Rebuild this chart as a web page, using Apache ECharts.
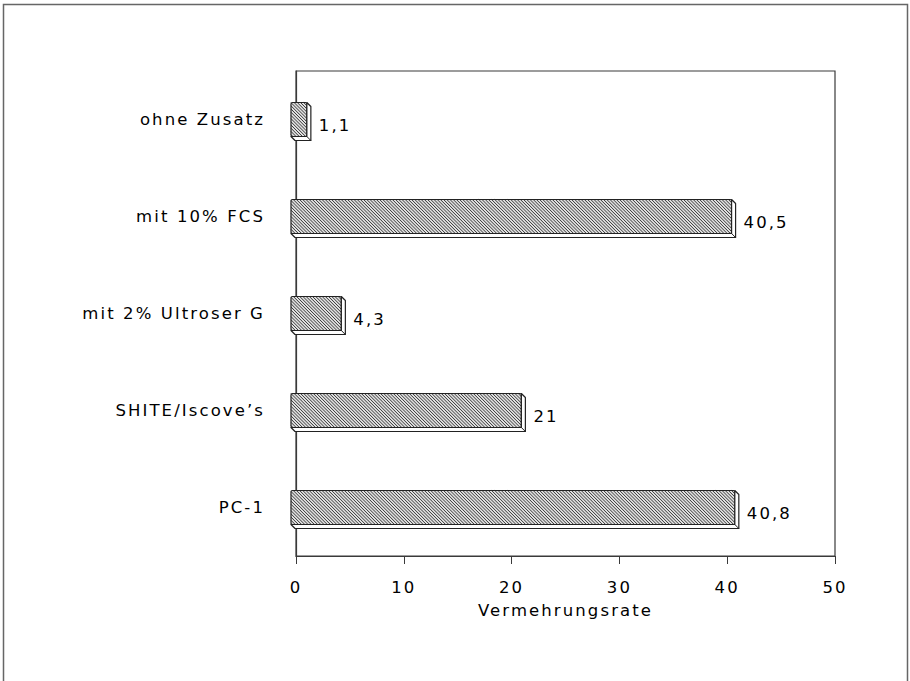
<!DOCTYPE html>
<html>
<head>
<meta charset="utf-8">
<script src="https://cdn.jsdelivr.net/npm/echarts@6/dist/echarts.min.js"></script>
<style>
  html, body { margin: 0; padding: 0; background: #fff; }
  #chart { width: 910px; height: 681px; letter-spacing: 2.1px; }
</style>
</head>
<body>
<div id="chart"></div>
<script>
// ---- data ----
const categories = ['ohne Zusatz', 'mit 10% FCS', 'mit 2% Ultroser G', 'SHITE/Iscove\u2019s', 'PC-1'];
const values = [1.1, 40.5, 4.3, 21, 40.8];
const xTicks = { min: 0, max: 50, interval: 10 };
const axisTitle = 'Vermehrungsrate';

const FONT = '"DejaVu Sans", sans-serif';
const TEXT = '#000';
const LINE = '#3a3a3a';

function fmt(v) { return String(v).replace('.', ','); }

function renderBar(params, api) {
  const idx = api.value(0);
  const v = api.value(1);
  const p0 = api.coord([0, idx]);
  const pv = api.coord([v, idx]);
  const cy = p0[1];
  const a = p0[0] - 5, b = pv[0] - 1;
  const t = cy - 17, u = cy + 17;
  const d = 4;
  // hatching
  let path = '';
  const s = 3.2;
  for (let c = t - b; c <= u - a; c += s) {
    const x1 = Math.max(a, t - c), x2 = Math.min(b, u - c);
    if (x2 > x1) path += 'M' + x1.toFixed(2) + ' ' + (x1 + c).toFixed(2) + 'L' + x2.toFixed(2) + ' ' + (x2 + c).toFixed(2);
  }
  const children = [
    { type: 'rect', shape: { x: a, y: t, width: b - a, height: u - t }, style: { fill: '#e0e0e0', stroke: null } },
    { type: 'path', shape: { pathData: path }, style: { fill: null, stroke: '#383838', lineWidth: 1 } },
    { type: 'rect', shape: { x: a, y: t, width: b - a, height: u - t, r: 1.5 }, style: { fill: null, stroke: '#222', lineWidth: 1.2 } },
    { type: 'polygon', shape: { points: [[b, t], [b + d, t + d], [b + d, u + d], [a + d, u + d], [a, u], [b, u]] },
      style: { fill: '#fff', stroke: '#222', lineWidth: 1.2, lineJoin: 'round' } },
    { type: 'line', shape: { x1: b, y1: u, x2: b + d, y2: u + d }, style: { stroke: '#222', lineWidth: 1 } },
    { type: 'text', style: { x: b + 12, y: cy + 6, text: fmt(v), fill: TEXT, font: '16.5px ' + FONT, textAlign: 'left', textVerticalAlign: 'middle' } }
  ];
  return { type: 'group', children: children };
}

const chart = echarts.init(document.getElementById('chart'), null, { renderer: 'svg' });
chart.setOption({
  animation: false,
  backgroundColor: '#fff',
  textStyle: { fontFamily: FONT },
  graphic: [{
    type: 'rect', shape: { x: 3.5, y: 4.5, width: 904, height: 720 },
    style: { fill: null, stroke: '#666', lineWidth: 1.5 }, silent: true, z: -10
  }],
  grid: { left: 296, right: 75, top: 71, bottom: 125, show: true, borderColor: LINE, borderWidth: 1.2 },
  xAxis: {
    type: 'value', min: xTicks.min, max: xTicks.max, interval: xTicks.interval,
    splitLine: { show: false },
    axisLine: { show: true, lineStyle: { color: LINE, width: 1.2 } },
    axisTick: { show: true, length: 8, lineStyle: { color: LINE } },
    axisLabel: { color: TEXT, fontSize: 16.5, margin: 23, fontFamily: FONT },
    name: axisTitle, nameLocation: 'middle', nameGap: 46,
    nameTextStyle: { color: TEXT, fontSize: 16.5, fontFamily: FONT }
  },
  yAxis: {
    type: 'category', data: categories, inverse: true,
    axisLine: { show: true, lineStyle: { color: LINE, width: 1.2 } },
    axisTick: { show: false },
    axisLabel: { color: TEXT, fontSize: 16.5, margin: 31, fontFamily: FONT, padding: [6, 0, 0, 0] }
  },
  series: [{
    type: 'custom',
    renderItem: renderBar,
    encode: { x: 1, y: 0 },
    data: values.map((v, i) => [i, v])
  }]
});
</script>
</body>
</html>
